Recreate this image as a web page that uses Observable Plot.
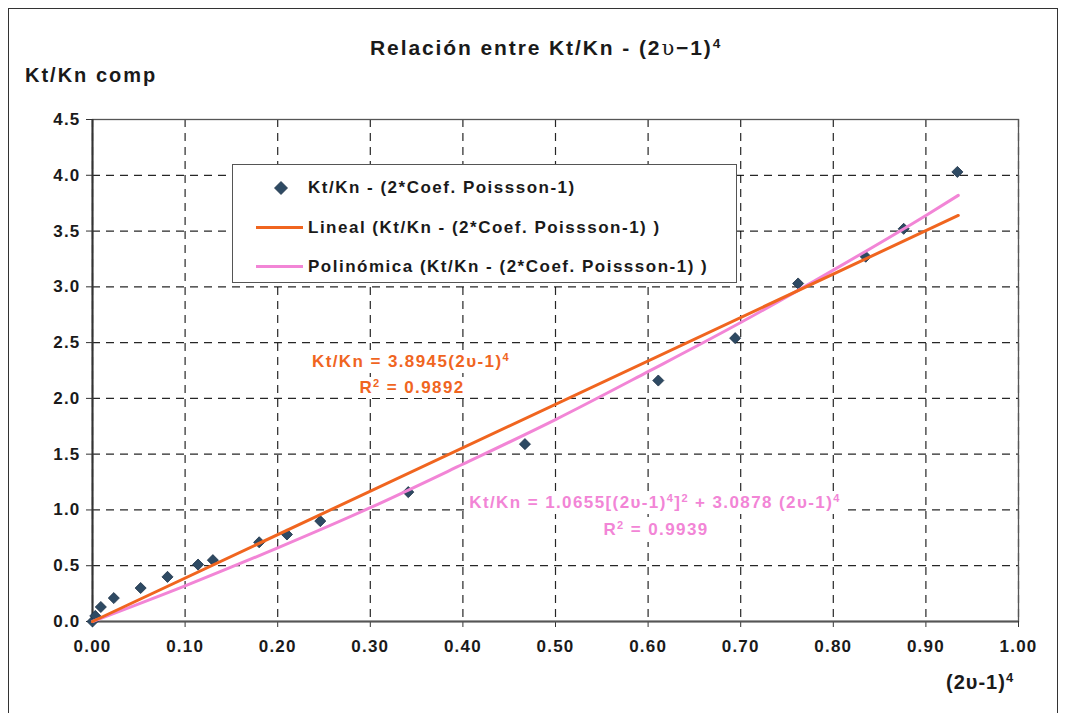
<!DOCTYPE html>
<html><head><meta charset="utf-8">
<script src="https://cdn.jsdelivr.net/npm/d3@7"></script>
<script src="https://cdn.jsdelivr.net/npm/@observablehq/plot@0.6"></script>
<style>
body{margin:0;background:#fff;font-family:"Liberation Sans",Arial,sans-serif;}
#wrap{position:relative;width:1065px;height:713px;overflow:hidden;background:#fff}
#wrap svg{position:absolute;left:0;top:0}
#wrap svg text{font-weight:bold;fill:#1a1a1a;font-family:"Liberation Sans",Arial,sans-serif;letter-spacing:1.2px}
.t{position:absolute;font-weight:bold;white-space:nowrap;line-height:1;color:#1a1a1a}
.border{position:absolute;left:8px;top:8px;width:1048px;height:740px;border:1.5px solid #333;}
.legend{position:absolute;left:232px;top:164px;width:503px;height:117px;border:1.5px solid #555;background:#fff}
.lg{position:absolute;left:75px;font-size:17px;font-weight:bold;color:#1a1a1a;white-space:nowrap;letter-spacing:1.5px;line-height:1}
.sample{position:absolute;left:23px;width:47px;height:3px}
.ann{position:absolute;background:#fff;font-weight:bold;white-space:nowrap;font-size:17px;letter-spacing:1.4px;line-height:1;transform:translateX(-50%)}
sup{font-size:65%;vertical-align:0.55em;line-height:0}
</style></head>
<body><div id="wrap"><div class="border"></div></div>
<script>
// Data points: Kt/Kn vs (2v-1)^4
const xValues = [0.000, 0.003, 0.009, 0.023, 0.052, 0.081, 0.114, 0.130, 0.180, 0.210, 0.246, 0.341, 0.467, 0.611, 0.694, 0.762, 0.835, 0.876, 0.934];
const yValues = [0.00, 0.05, 0.13, 0.21, 0.30, 0.40, 0.51, 0.55, 0.71, 0.78, 0.90, 1.16, 1.59, 2.16, 2.54, 3.03, 3.27, 3.52, 4.03];
// Linear trendline
const linX = [0, 0.935];
const linY = [0, 3.64];
// Polynomial trendline
const polyX = [0, 0.1, 0.2, 0.3, 0.4, 0.5, 0.6, 0.7, 0.8, 0.9, 0.935];
const polyY = [0, 0.32, 0.66, 1.02, 1.41, 1.81, 2.24, 2.68, 3.15, 3.64, 3.82];
// Ticks
const xTicks = [0, 0.1, 0.2, 0.3, 0.4, 0.5, 0.6, 0.7, 0.8, 0.9, 1.0];
const yTicks = [0, 0.5, 1.0, 1.5, 2.0, 2.5, 3.0, 3.5, 4.0, 4.5];

const points = xValues.map((x, i) => ({x, y: yValues[i]}));
const lin = linX.map((x, i) => ({x, y: linY[i]}));
const poly = polyX.map((x, i) => ({x, y: polyY[i]}));

const orange = "#f0651f";
const pink = "#f285d6";
const dotFill = "#2e4a63";

const chart = Plot.plot({
  width: 1065, height: 713,
  marginLeft: 92, marginRight: 47, marginTop: 119, marginBottom: 92,
  x: {domain: [0, 1]},
  y: {domain: [0, 4.5]},
  style: {fontSize: "17px", background: "transparent"},
  marks: [
    Plot.gridX(xTicks, {stroke: "#000", strokeOpacity: 0.85, strokeWidth: 1.2, strokeDasharray: "8,6"}),
    Plot.gridY(yTicks, {stroke: "#000", strokeOpacity: 0.85, strokeWidth: 1.2, strokeDasharray: "8,6"}),
    Plot.frame({stroke: "#555", strokeWidth: 1.3}),
    Plot.axisX({ticks: xTicks, tickFormat: d3.format(".2f"), tickSize: 6, tickPadding: 12, label: null, fontSize: 17, stroke: "#333"}),
    Plot.axisY({ticks: yTicks, tickFormat: d3.format(".1f"), tickSize: 6, tickPadding: 6, label: null, fontSize: 17, stroke: "#333"}),
    Plot.ruleX([0], {stroke: "#333", strokeWidth: 2}),
    Plot.ruleY([0], {stroke: "#555", strokeWidth: 2}),
    Plot.dot(points, {x: "x", y: "y", symbol: "diamond2", r: 5, fill: dotFill, stroke: "#1d3146", strokeWidth: 0.8}),
    Plot.line(poly, {x: "x", y: "y", stroke: pink, strokeWidth: 3, curve: "monotone-x"}),
    Plot.line(lin, {x: "x", y: "y", stroke: orange, strokeWidth: 3})
  ]
});
const wrap = document.getElementById("wrap");
wrap.appendChild(chart);

function addText(html, style, cls) {
  const d = document.createElement("div");
  d.className = cls || "t";
  d.innerHTML = html;
  Object.assign(d.style, style);
  wrap.appendChild(d);
  return d;
}
addText("Relación entre Kt/Kn - (2<span style='font-family:\"DejaVu Serif\",serif;font-weight:normal'>υ</span>−1)<sup>4</sup>", {left: "370px", top: "37px", fontSize: "21px", letterSpacing: "1.9px"});
addText("Kt/Kn comp", {left: "25px", top: "65px", fontSize: "20px", letterSpacing: "2px"});
addText("(2υ-1)<sup>4</sup>", {left: "946px", top: "672px", fontSize: "20px", letterSpacing: "1px"});

// annotations
addText("Kt/Kn = 3.8945(2υ-1)<sup>4</sup>", {left: "411px", top: "350px", color: orange, padding: "3px 2px"}, "ann");
addText("R<sup>2</sup> = 0.9892", {left: "412px", top: "377px", color: orange, padding: "2px 2px"}, "ann");
addText("Kt/Kn = 1.0655[(2υ-1)<sup>4</sup>]<sup>2</sup> + 3.0878 (2υ-1)<sup>4</sup>", {left: "655px", top: "491px", color: pink, padding: "3px 2px"}, "ann");
addText("R<sup>2</sup> = 0.9939", {left: "656px", top: "517px", color: pink, padding: "4px 2px"}, "ann");

// legend
const lg = document.createElement("div");
lg.className = "legend";
lg.innerHTML = `
<svg style="position:absolute;left:40px;top:15px" width="16" height="16"><path d="M8,1.5L14.5,8L8,14.5L1.5,8Z" fill="${dotFill}" stroke="#1d3146" stroke-width="0.8"/></svg>
<div class="lg" style="top:14px">Kt/Kn - (2*Coef. Poissson-1)</div>
<div class="sample" style="top:61px;background:${orange}"></div>
<div class="lg" style="top:54px">Lineal (Kt/Kn - (2*Coef. Poissson-1) )</div>
<div class="sample" style="top:100px;background:${pink}"></div>
<div class="lg" style="top:93px">Polinómica (Kt/Kn - (2*Coef. Poissson-1) )</div>`;
wrap.appendChild(lg);
</script>
</body></html>
